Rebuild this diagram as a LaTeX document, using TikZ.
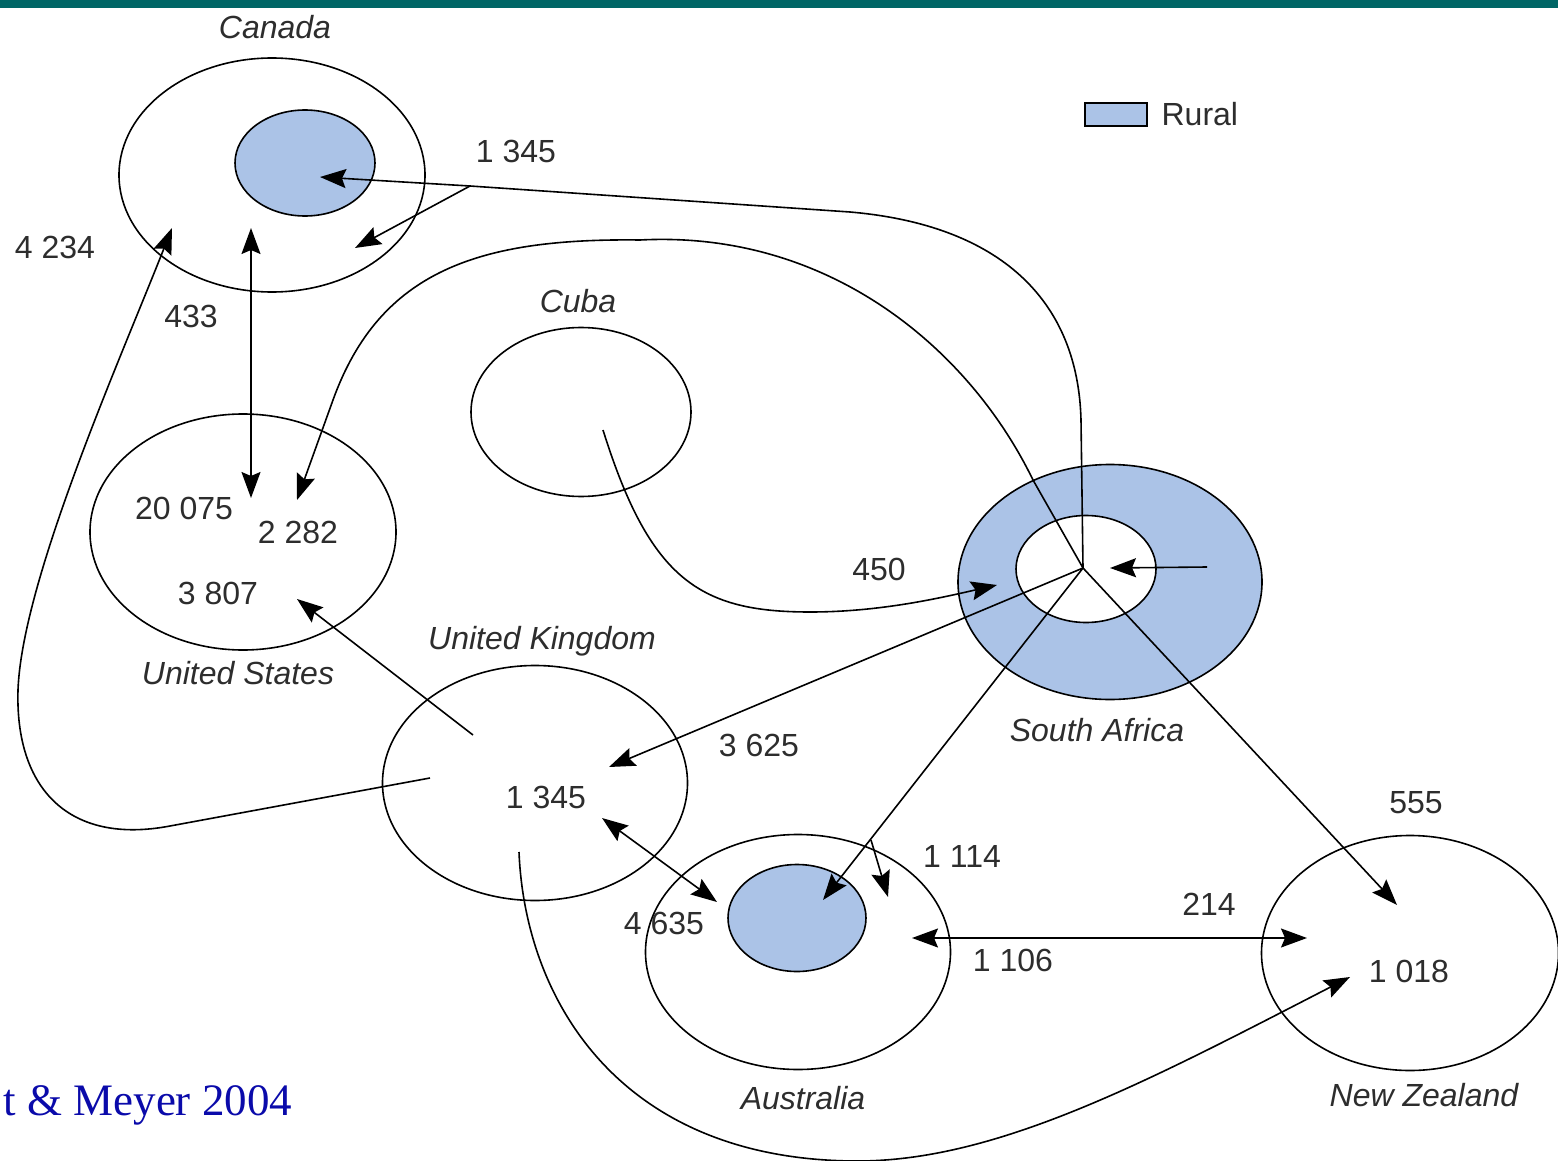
\documentclass[tikz,border=0pt]{standalone}
\usepackage{fontspec}
\setmainfont{Liberation Serif}
\setsansfont{Liberation Sans}
\usetikzlibrary{arrows.meta,shapes.geometric,positioning}
\definecolor{ruralblue}{RGB}{171,195,231}
\definecolor{barteal}{RGB}{0,102,102}
\definecolor{citeblue}{RGB}{10,10,170}
\definecolor{ink}{RGB}{45,45,45}

\begin{document}
\begin{tikzpicture}[
    x=1pt, y=-1pt,
    line width=1.6pt,
    flow/.style={-{Stealth[length=26pt,width=19pt,inset=4pt]}},
    twoway/.style={{Stealth[length=26pt,width=19pt,inset=4pt]}-{Stealth[length=26pt,width=19pt,inset=4pt]}},
    country node/.style={ellipse,draw,inner sep=0pt},
    rural node/.style={ellipse,draw,fill=ruralblue,inner sep=0pt},
    name label/.style={font=\sffamily\itshape\fontsize{32}{36}\selectfont,text=ink,text height=23pt,text depth=0pt,inner sep=0pt},
    flow label/.style={font=\sffamily\fontsize{32}{36}\selectfont,text=ink,text height=23pt,text depth=0pt,inner sep=0pt}]

  \useasboundingbox (0,0) rectangle (1558,1161);
  \fill[barteal] (0,0) rectangle (1558,8);

  % countries
  \node[country node,minimum width=306pt,minimum height=234pt] (Canada) at (272,175) {};
  \node[rural node,minimum width=140pt,minimum height=106pt] (CanadaRural) at (305,163) {};
  \node[country node,minimum width=220pt,minimum height=169pt] (Cuba) at (581,412) {};
  \node[country node,minimum width=306pt,minimum height=236pt] (UnitedStates) at (243,532) {};
  \node[country node,minimum width=305pt,minimum height=235pt] (UnitedKingdom) at (535,783) {};
  \node[rural node,minimum width=304pt,minimum height=235pt] (SouthAfrica) at (1110,582) {};
  \node[country node,fill=white,minimum width=140pt,minimum height=107pt] (SouthAfricaCore) at (1086,569) {};
  \node[country node,minimum width=305pt,minimum height=235pt] (Australia) at (798,952) {};
  \node[rural node,minimum width=138pt,minimum height=107pt] (AustraliaRural) at (797,918) {};
  \node[country node,minimum width=297pt,minimum height=235pt] (NewZealand) at (1410,953) {};

  % names
  \node[name label] (CanadaName) at (275,27) {Canada};
  \node[name label] (CubaName) at (578,301) {Cuba};
  \node[name label] (USName) at (238,673) {United States};
  \node[name label] (UKName) at (542,638) {United Kingdom};
  \node[name label] (SAName) at (1097,730) {South Africa};
  \node[name label] (AusName) at (803,1098) {Australia};
  \node[name label] (NZName) at (1424,1095) {New Zealand};

  % legend
  \node[draw,fill=ruralblue,minimum width=62pt,minimum height=23pt,inner sep=0pt] (RuralKey) at (1116,114.5) {};
  \node[flow label,right=13pt of RuralKey] (RuralText) {Rural};

  % ends of the flows
  \coordinate (SAhub) at (1083,568);
  \coordinate (CanJoin) at (470,186);
  \coordinate (CanIn) at (320,177);
  \coordinate (CanSplit) at (355,248);
  \coordinate (CanWest) at (172,228);
  \coordinate (CanSouth) at (251,228);
  \coordinate (USNorth) at (251,498);
  \coordinate (USEast) at (297,500);
  \coordinate (USSouth) at (297,599);
  \coordinate (UKNorth) at (473,735);
  \coordinate (UKWest) at (430,778);
  \coordinate (UKEast) at (609,767);
  \coordinate (UKSouth) at (602,818);
  \coordinate (UKBottom) at (519,852);
  \coordinate (CubaIn) at (603,430);
  \coordinate (SAWest) at (997,585);
  \coordinate (SAEast) at (1207,567);
  \coordinate (SACoreEast) at (1110,568);
  \coordinate (AusNW) at (717,902);
  \coordinate (AusIn) at (823,900);
  \coordinate (AusJoin) at (871,840);
  \coordinate (AusNE) at (888,897);
  \coordinate (AusEast) at (912,938);
  \coordinate (NZWest) at (1307,938);
  \coordinate (NZNorth) at (1397,905);
  \coordinate (NZSouth) at (1350,977);

  % flows
  \draw[flow] (SAhub) -- (1081,420) .. controls (1078,300) and (1000,225) .. (850,212) -- (CanJoin) -- (CanIn);
  \draw[flow] (CanJoin) -- (CanSplit);
  \draw[flow] (SAhub) -- (1033,480) .. controls (970,350) and (830,230) .. (640,240)
    .. controls (480,238) and (380,270) .. (333,400) -- (USEast);
  \draw[twoway] (CanSouth) -- (USNorth);
  \draw[flow] (UKWest) -- (170,826) .. controls (70,845) and (15,790) .. (18,690)
    .. controls (22,580) and (120,360) .. (CanWest);
  \draw[flow] (UKNorth) -- (USSouth);
  \draw[flow] (CubaIn) .. controls (650,580) and (700,612) .. (810,612)
    .. controls (880,612) and (940,598) .. (SAWest);
  \draw[flow] (SAhub) -- (UKEast);
  \draw[twoway] (UKSouth) -- (AusNW);
  \draw[flow] (SAhub) -- (AusIn);
  \draw[flow] (AusJoin) -- (AusNE);
  \draw[flow] (SAhub) -- (NZNorth);
  \draw[twoway] (AusEast) -- (NZWest);
  \draw[flow] (UKBottom) .. controls (525,1000) and (620,1162) .. (860,1161)
    .. controls (1000,1160) and (1150,1080) .. (NZSouth);
  \draw[flow] (SAEast) -- (SACoreEast);

  % numbers
  \node[flow label] (n1345a) at (516,151) {1 345};
  \node[flow label] (n4234) at (55,247) {4 234};
  \node[flow label] (n433) at (191,316) {433};
  \node[flow label] (n20075) at (184,508) {20 075};
  \node[flow label] (n2282) at (298,532) {2 282};
  \node[flow label] (n3807) at (218,593) {3 807};
  \node[flow label] (n450) at (879,569) {450};
  \node[flow label] (n3625) at (759,745) {3 625};
  \node[flow label] (n1345b) at (546,797) {1 345};
  \node[flow label] (n555) at (1416,802) {555};
  \node[flow label] (n1114) at (962,856) {1 114};
  \node[flow label] (n4635) at (664,923) {4 635};
  \node[flow label] (n214) at (1209,904) {214};
  \node[flow label] (n1106) at (1013,960) {1 106};
  \node[flow label] (n1018) at (1409,971) {1 018};

  \node[font=\fontsize{45}{50}\selectfont,text=citeblue,anchor=base east,inner sep=0pt] (Cite) at (293,1115) {t \& Meyer 2004};
\end{tikzpicture}
\end{document}
